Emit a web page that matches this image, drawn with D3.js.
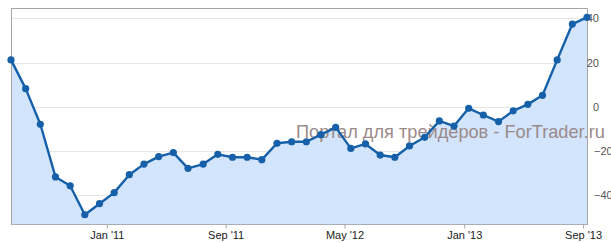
<!DOCTYPE html>
<html>
<head>
<meta charset="utf-8">
<script src="https://cdn.jsdelivr.net/npm/d3@7"></script>
<style>
  html, body { margin: 0; padding: 0; background: #fff; }
  svg { display: block; font-family: "Liberation Sans", Arial, sans-serif; }
</style>
</head>
<body>
<svg id="chart" width="611" height="243"></svg>
<script>
const dates = [
  "2010-06-19","2010-07-19","2010-08-18","2010-09-18","2010-10-18","2010-11-17","2010-12-17",
  "2011-01-16","2011-02-16","2011-03-18","2011-04-17","2011-05-17","2011-06-16","2011-07-17",
  "2011-08-16","2011-09-15","2011-10-15","2011-11-14","2011-12-15","2012-01-14","2012-02-13",
  "2012-03-14","2012-04-13","2012-05-14","2012-06-13","2012-07-13","2012-08-12","2012-09-11",
  "2012-10-12","2012-11-11","2012-12-11","2013-01-10","2013-02-09","2013-03-12","2013-04-11",
  "2013-05-11","2013-06-10","2013-07-10","2013-08-10","2013-09-09"
];
const values = [
  21.2, 8.2, -7.9, -31.7, -35.7, -48.8, -43.8,
  -38.8, -30.7, -25.9, -22.5, -20.7, -27.8, -25.9,
  -21.5, -22.8, -22.8, -23.9, -16.5, -15.8, -15.8,
  -12.6, -9.3, -18.8, -16.8, -21.8, -22.8, -17.7,
  -13.8, -6.4, -8.7, -0.7, -3.7, -6.7, -1.8,
  1.1, 5.2, 21.2, 37.4, 40.4
];
const xTickDates = ["2011-01-01","2011-09-01","2012-05-01","2013-01-01","2013-09-01"];
const yTickValues = [-40, -20, 0, 20, 40];
const watermark = "Портал для трейдеров - ForTrader.ru";

const parse = d3.utcParse("%Y-%m-%d");
const data = dates.map((d, i) => ({ date: parse(d), value: values[i] }));

const L = 11, R = 587, T = 8, B = 224;
const svg = d3.select("#chart");

const x = d3.scaleUtc().domain([data[0].date, data[data.length - 1].date]).range([L, R]);
const y = d3.scaleLinear().domain([-40, 40]).range([195.3, 18.3]);

// gridlines
svg.append("g").selectAll("line").data(yTickValues).join("line")
  .attr("x1", L).attr("x2", R)
  .attr("y1", d => Math.round(y(d)) + 0.5).attr("y2", d => Math.round(y(d)) + 0.5)
  .attr("stroke", "#e6e6e6").attr("stroke-width", 1);

// area
const area = d3.area().x(d => x(d.date)).y0(B).y1(d => y(d.value));
svg.append("path").datum(data).attr("d", area).attr("fill", "#d2e5fc");

// watermark
svg.append("text")
  .attr("x", 296).attr("y", 138)
  .attr("font-size", 18.2)
  .attr("fill", "#9a8a8a")
  .text(watermark);

// border (left, top, right)
svg.append("path")
  .attr("d", `M${L + 0.5},${B}V${T + 0.5}H${R + 0.5}V${B}`)
  .attr("fill", "none").attr("stroke", "#a4a4a4").attr("stroke-width", 1);

// x axis
const xAxis = d3.axisBottom(x)
  .tickValues(xTickDates.map(parse))
  .tickFormat(d3.utcFormat("%b '%y"))
  .tickSize(4).tickSizeOuter(0);
const gx = svg.append("g").attr("transform", `translate(0,${B + 0.5})`).call(xAxis);
gx.select(".domain").attr("stroke", "#a7aeb8").attr("d", `M${L},0H${R + 1}`);
gx.selectAll(".tick line").attr("stroke", "#a4a4a4");
gx.selectAll(".tick text").attr("font-size", 11).attr("fill", "#222")
  .attr("font-family", "Liberation Sans, Arial, sans-serif").attr("y", 7).attr("dy", "0.71em");

// y axis (right)
const yAxis = d3.axisRight(y).tickValues(yTickValues).tickSize(0)
  .tickFormat(d => d < 0 ? "\u2212" + Math.abs(d) : String(d));
const gy = svg.append("g").attr("transform", `translate(${R},0)`).call(yAxis);
gy.select(".domain").remove();
gy.selectAll(".tick text")
  .attr("font-size", 11).attr("fill", "#555")
  .attr("font-family", "Liberation Sans, Arial, sans-serif")
  .attr("text-anchor", d => d < 0 ? "start" : "end")
  .attr("x", d => d < 0 ? 7 : 12);

// line
const line = d3.line().x(d => x(d.date)).y(d => y(d.value));
svg.append("path").datum(data).attr("d", line)
  .attr("fill", "none").attr("stroke", "#1660aa").attr("stroke-width", 2.4)
  .attr("stroke-linejoin", "round");

// points
svg.append("g").selectAll("circle").data(data).join("circle")
  .attr("cx", d => x(d.date)).attr("cy", d => y(d.value)).attr("r", 3.6)
  .attr("fill", "#1660aa");
</script>
</body>
</html>
